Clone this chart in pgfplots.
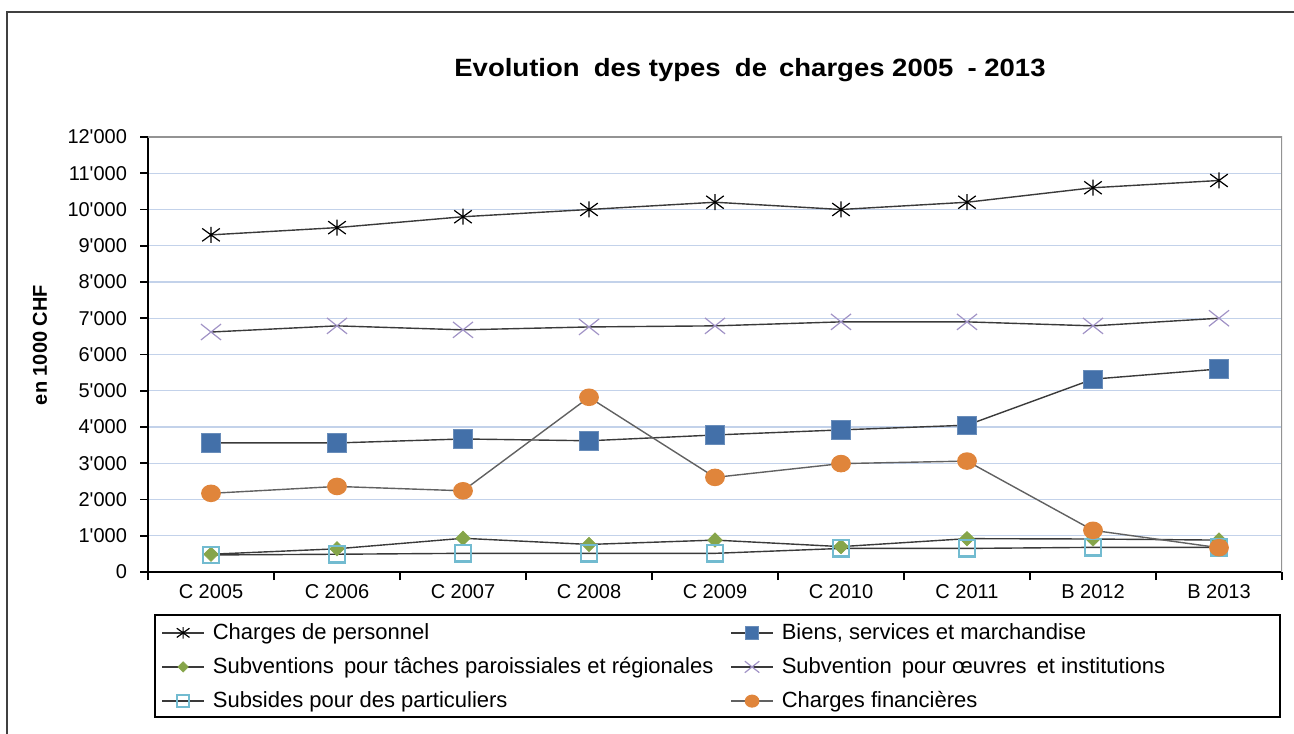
\documentclass[border=0pt]{standalone}
\usepackage{pgfplots}
\pgfplotsset{compat=1.18}
\usepackage{fontspec}
\setmainfont{Liberation Sans}
\definecolor{blueS}{HTML}{4370A9}
\definecolor{greenS}{HTML}{86A54A}
\definecolor{orangeS}{HTML}{E0853B}
\definecolor{purpleS}{HTML}{A193C6}
\definecolor{cyanS}{HTML}{72BBD0}
\definecolor{lineS}{HTML}{3A3A3A}
\definecolor{gridS}{HTML}{C3D2EA}
\pgfdeclareplotmark{xstar}{%
  \pgfpathmoveto{\pgfqpoint{0pt}{\pgfplotmarksize}}%
  \pgfpathlineto{\pgfqpoint{0pt}{-\pgfplotmarksize}}%
  \pgfpathmoveto{\pgfqpoint{-1.1\pgfplotmarksize}{.8\pgfplotmarksize}}%
  \pgfpathlineto{\pgfqpoint{1.1\pgfplotmarksize}{-.8\pgfplotmarksize}}%
  \pgfpathmoveto{\pgfqpoint{-1.1\pgfplotmarksize}{-.8\pgfplotmarksize}}%
  \pgfpathlineto{\pgfqpoint{1.1\pgfplotmarksize}{.8\pgfplotmarksize}}%
  \pgfusepathqstroke}
\pgfdeclareplotmark{xcross}{%
  \pgfpathmoveto{\pgfqpoint{-1.2\pgfplotmarksize}{.95\pgfplotmarksize}}%
  \pgfpathlineto{\pgfqpoint{1.2\pgfplotmarksize}{-.95\pgfplotmarksize}}%
  \pgfpathmoveto{\pgfqpoint{-1.2\pgfplotmarksize}{-.95\pgfplotmarksize}}%
  \pgfpathlineto{\pgfqpoint{1.2\pgfplotmarksize}{.95\pgfplotmarksize}}%
  \pgfusepathqstroke}
\begin{document}
\begin{tikzpicture}
\useasboundingbox (0,0) rectangle (647pt,366.5pt);
\draw[line width=0.8pt, black!75] (3.5pt,360.5pt) rectangle (660pt,-10pt);
\node[font=\fontsize{12.5}{14}\selectfont\bfseries, xscale=1.1] at (375pt,331.5pt) {Evolution\hspace{3pt} des types\hspace{3pt} de\hspace{2pt} charges 2005\hspace{3pt} - 2013};
\node[font=\fontsize{10}{12}\selectfont\bfseries, rotate=90] at (20pt,194pt) {en 1000 CHF};
\begin{axis}[
  at={(74pt,80.5pt)}, anchor=south west,
  scale only axis, width=567pt, height=217.5pt,
  xmin=-0.5, xmax=8.5, ymin=0, ymax=12000,
  axis x line*=bottom, axis y line*=left,
  axis line style={-, black, line width=0.8pt},
  xtick={0,...,8},
  xticklabels={C 2005,C 2006,C 2007,C 2008,C 2009,C 2010,C 2011,B 2012,B 2013},
  major x tick style={draw=none},
  minor xtick={-0.5,0.5,...,8.5},
  minor x tick style={black, line width=0.8pt},
  ytick={0,1000,...,12000},
  y tick style={black, line width=0.8pt},
  tick align=outside,
  major tick length=4pt, minor tick length=4pt,
  ymajorgrids, grid style={gridS, line width=0.6pt},
  scaled y ticks=false,
  /pgf/number format/.cd, 1000 sep={\textquotesingle}, assume math mode=true,
  /pgfplots/.cd,
  tick label style={font=\fontsize{10}{12}\selectfont},
  every x tick label/.append style={yshift=1.5pt},
  every y tick label/.append style={xshift=-3pt},
  legend columns=2,
  legend cell align=left,
  legend style={at={(0.0115,-0.108)}, anchor=north west, draw=none, fill=none,
    inner sep=0pt, font=\fontsize{11}{13}\selectfont, row sep=3.5pt,
    /tikz/every odd column/.append style={column sep=2pt},
    /tikz/every even column/.append style={column sep=6.5pt}},
  legend image code/.code={\draw[mark repeat=2,mark phase=2] plot coordinates {(0pt,0pt)(10.5pt,0pt)(21pt,0pt)};},
  legend image post style={/tikz/every mark/.append style={scale=0.72}},
  every axis plot/.append style={line width=0.7pt},
]
\addplot[lineS, mark=xstar, mark size=4pt, mark options={black, line width=0.6pt}]
  coordinates {(0,9300)(1,9500)(2,9800)(3,10000)(4,10200)(5,10000)(6,10200)(7,10600)(8,10800)};
\addlegendentry{Charges de personnel}
\addplot[lineS, mark=square*, mark size=4.6pt, mark options={fill=blueS, draw=blueS!80!white, line width=0.4pt}]
  coordinates {(0,3560)(1,3560)(2,3670)(3,3620)(4,3780)(5,3920)(6,4050)(7,5320)(8,5600)};
\addlegendentry{Biens, services et marchandise}
\addplot[lineS, mark=diamond*, mark size=3.6pt, mark options={fill=greenS, draw=greenS, xscale=1.35, line width=0.3pt}]
  coordinates {(0,490)(1,640)(2,930)(3,760)(4,880)(5,700)(6,920)(7,910)(8,880)};
\addlegendentry{Subventions\hspace{2pt} pour tâches paroissiales et régionales}
\addplot[lineS, mark=xcross, mark size=4.2pt, mark options={purpleS, line width=0.6pt}]
  coordinates {(0,6620)(1,6790)(2,6680)(3,6760)(4,6790)(5,6900)(6,6900)(7,6790)(8,7000)};
\addlegendentry{Subvention\hspace{2pt} pour œuvres\hspace{2pt} et institutions}
\addplot[lineS, mark=square, mark size=4.1pt, mark options={draw=cyanS, line width=1.2pt}]
  coordinates {(0,470)(1,490)(2,515)(3,515)(4,515)(5,650)(6,650)(7,680)(8,680)};
\addlegendentry{Subsides pour des particuliers}
\addplot[lineS!80!white, mark=*, mark size=4.6pt, mark options={fill=orangeS, draw=orangeS, yscale=0.88}]
  coordinates {(0,2170)(1,2360)(2,2240)(3,4820)(4,2610)(5,2990)(6,3060)(7,1150)(8,670)};
\addlegendentry{Charges financières}
\draw[gray!85, line width=0.8pt] (rel axis cs:0,1) -- (rel axis cs:1,1) -- (rel axis cs:1,0);
\end{axis}
\draw[line width=0.6pt, black] (77.5pt,59pt) rectangle (640pt,8pt);
\end{tikzpicture}
\end{document}
